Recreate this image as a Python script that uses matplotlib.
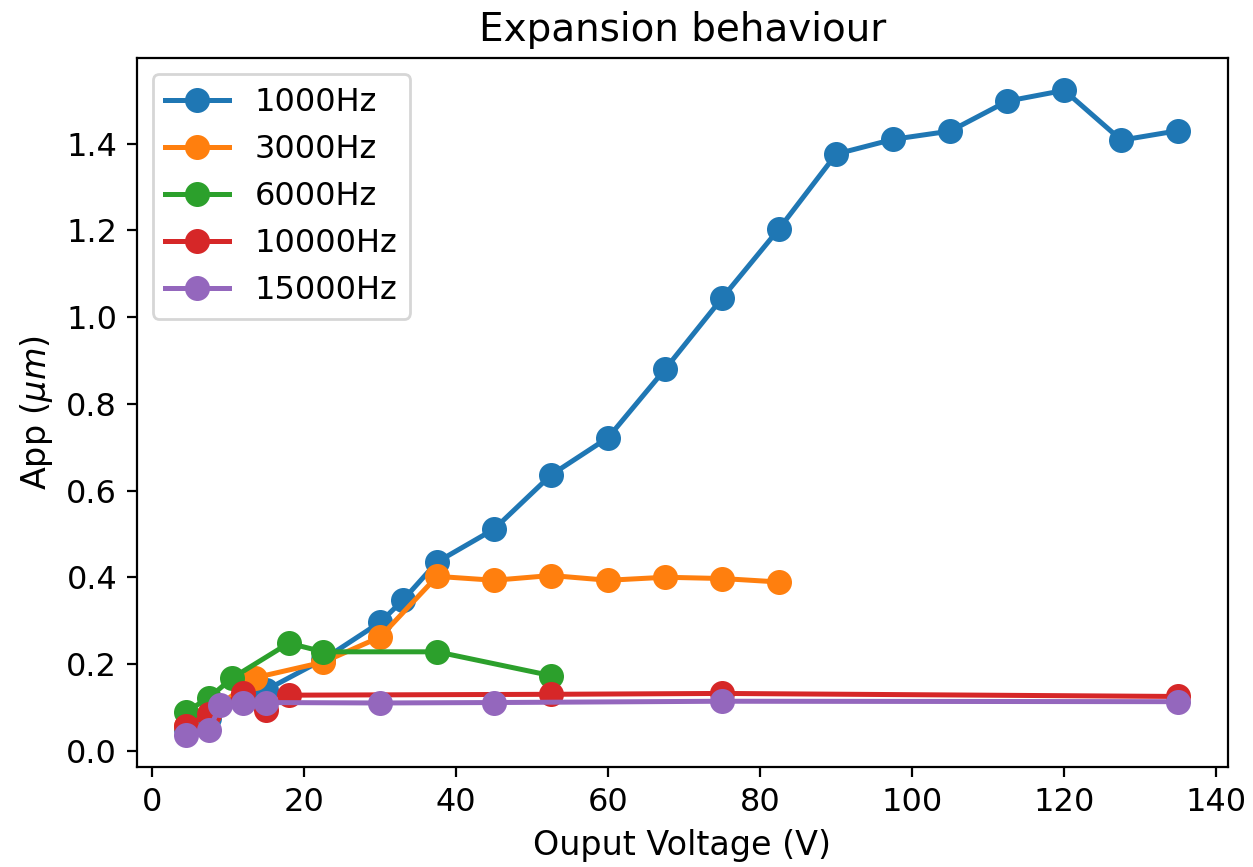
import matplotlib
matplotlib.use("Agg")
import matplotlib.pyplot as plt

# 1000Hz
v_1000 = [4.5, 7.5, 12, 15, 22.5, 30, 33, 37.5, 45, 52.5, 60, 67.5, 75, 82.5,
          90, 97.5, 105, 112.5, 120, 127.5, 135]
a_1000 = [0.05, 0.075, 0.12, 0.14, 0.21, 0.296, 0.347, 0.435, 0.511, 0.636, 0.722,
          0.88, 1.044, 1.204, 1.376, 1.41, 1.429, 1.498, 1.523, 1.408, 1.43]

# 3000Hz
v_3000 = [4.5, 7.5, 13.5, 22.5, 30, 37.5, 45, 52.5, 60, 67.5, 75, 82.5]
a_3000 = [0.058, 0.085, 0.168, 0.204, 0.262, 0.402, 0.393, 0.404, 0.393, 0.4, 0.397, 0.389]

# 6000Hz
v_6000 = [4.5, 7.5, 10.5, 18, 22.5, 37.5, 52.5]
a_6000 = [0.09, 0.122, 0.167, 0.248, 0.228, 0.228, 0.173]

# 10000Hz
v_10000 = [4.5, 7.5, 12, 15, 18, 52.5, 75, 135]
a_10000 = [0.058, 0.084, 0.134, 0.094, 0.128, 0.13, 0.132, 0.125]

# 15000Hz
v_15000 = [4.5, 7.5, 9, 12, 15, 30, 45, 75, 135]
a_15000 = [0.036, 0.048, 0.105, 0.109, 0.111, 0.11, 0.111, 0.114, 0.113]

series = [
    (v_1000, a_1000, "1000Hz"),
    (v_3000, a_3000, "3000Hz"),
    (v_6000, a_6000, "6000Hz"),
    (v_10000, a_10000, "10000Hz"),
    (v_15000, a_15000, "15000Hz"),
]


def main():
    fig = plt.figure(figsize=(6.265, 4.335), dpi=200)
    ax = fig.add_axes([0.109, 0.115, 0.871, 0.818])

    for v, a, label in series:
        ax.plot(v, a, marker="o", markersize=8, linewidth=1.8, label=label)

    ax.set_title("Expansion behaviour", fontsize=14)
    ax.set_xlabel("Ouput Voltage (V)", fontsize=12)
    ax.set_ylabel(r"App ($\mu m$)", fontsize=12)
    ax.tick_params(labelsize=11.5)
    ax.legend(loc="upper left", fontsize=11.5)

    fig.savefig("out.png", dpi=200)


if __name__ == "__main__":
    main()
